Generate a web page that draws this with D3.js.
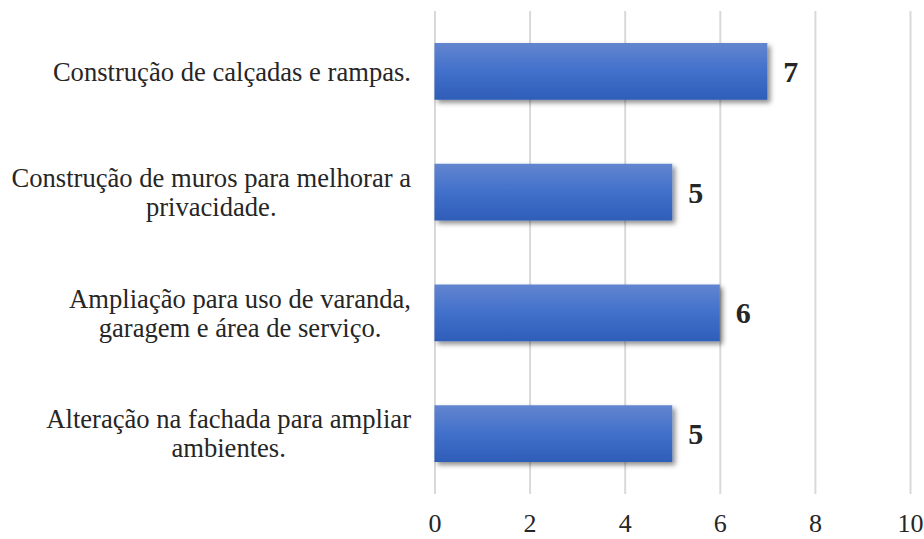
<!DOCTYPE html>
<html>
<head>
<meta charset="utf-8">
<script src="https://cdn.jsdelivr.net/npm/d3@7"></script>
<style>
  html, body { margin: 0; padding: 0; background: #fff; }
  svg { display: block; }
  text { font-family: "Liberation Serif", "Times New Roman", serif; fill: #262626; }
</style>
</head>
<body>
<svg id="chart" width="924" height="539"></svg>
<script>
// Categories, top to bottom, each split into its printed lines
const categories = [
  ["Construção de calçadas e rampas."],
  ["Construção de muros para melhorar a", "privacidade."],
  ["Ampliação para uso de varanda,", "garagem e área de serviço."],
  ["Alteração na fachada para ampliar", "ambientes."]
];
const values = [7, 5, 6, 5];
const tickValues = [0, 2, 4, 6, 8, 10];

const svg = d3.select("#chart");
const margin = { left: 434.5, right: 14, top: 11, bottom: 45 };
const W = 924, H = 539;

const x = d3.scaleLinear().domain([0, 10]).range([margin.left, W - margin.right]);
const y = d3.scaleBand()
  .domain(d3.range(categories.length))
  .range([margin.top, H - margin.bottom])
  .paddingInner(0.53)
  .paddingOuter(0.265);

const defs = svg.append("defs");
const grad = defs.append("linearGradient")
  .attr("id", "barFill").attr("x1", 0).attr("y1", 0).attr("x2", 0).attr("y2", 1);
grad.append("stop").attr("offset", "0%").attr("stop-color", "#6385cf");
grad.append("stop").attr("offset", "50%").attr("stop-color", "#4170cb");
grad.append("stop").attr("offset", "100%").attr("stop-color", "#2e5db8");

const shadow = defs.append("filter").attr("id", "barShadow")
  .attr("x", "-10%").attr("y", "-30%").attr("width", "130%").attr("height", "180%");
shadow.append("feDropShadow")
  .attr("dx", 3).attr("dy", 3).attr("stdDeviation", 2.5)
  .attr("flood-color", "#000").attr("flood-opacity", 0.45);

// Vertical gridlines and tick labels
const xAxis = d3.axisBottom(x).tickValues(tickValues).tickSize(H - margin.bottom - margin.top).tickPadding(20);
const gx = svg.append("g").attr("transform", `translate(0,${margin.top})`).call(xAxis);
gx.select(".domain").remove();
gx.selectAll(".tick line").attr("stroke", "#d9d9d9").attr("stroke-width", 2);
gx.selectAll(".tick text")
  .attr("font-size", 26)
  .attr("font-family", "Liberation Serif, Times New Roman, serif")
  .attr("fill", "#262626");

// Bars
svg.append("g").selectAll("rect")
  .data(values)
  .join("rect")
  .attr("x", x(0))
  .attr("y", (d, i) => y(i))
  .attr("width", d => x(d) - x(0))
  .attr("height", y.bandwidth())
  .attr("fill", "url(#barFill)")
  .attr("filter", "url(#barShadow)");

// Value labels
svg.append("g").selectAll("text")
  .data(values)
  .join("text")
  .attr("x", d => x(d) + 16)
  .attr("y", (d, i) => y(i) + y.bandwidth() / 2)
  .attr("dy", "0.35em")
  .attr("font-size", 30)
  .attr("font-weight", "bold")
  .attr("fill", "#1a1a1a")
  .text(d => d);

// Category labels: right edge fixed, lines centred within the block's width
const labelRight = 411;
const lineH = 29;
const lg = svg.append("g");
categories.forEach((lines, i) => {
  const cy = y(i) + y.bandwidth() / 2;
  const t = lg.append("text").attr("font-size", 26.6).attr("text-anchor", "middle");
  const spans = lines.map((s, k) => t.append("tspan").text(s));
  const widths = spans.map(s => s.node().getComputedTextLength());
  const maxW = d3.max(widths);
  const cx = labelRight - maxW / 2;
  const y0 = cy - (lines.length - 1) * lineH / 2;
  spans.forEach((s, k) => s.attr("x", cx).attr("y", y0 + k * lineH).attr("dy", "0.35em"));
});
</script>
</body>
</html>
